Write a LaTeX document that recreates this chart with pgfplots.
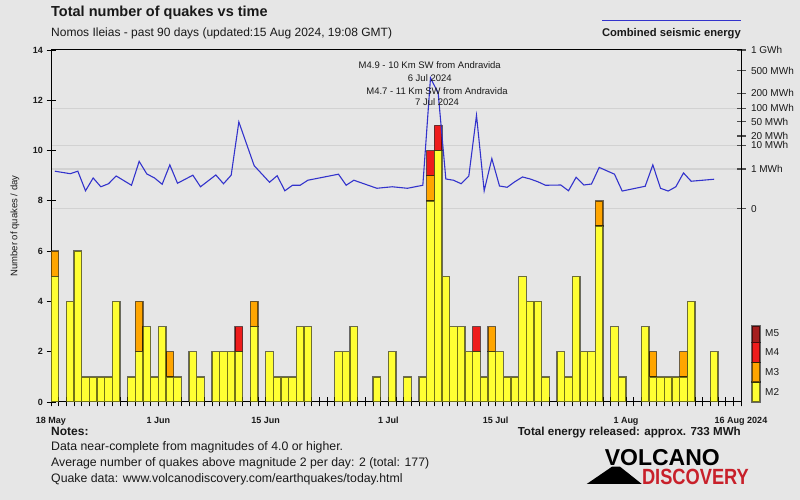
\documentclass[border=0pt]{standalone}
\usepackage{fontspec}
\setmainfont{Liberation Sans}
\usepackage{pgfplots}
\usepackage{pgfplotstable}
\pgfplotsset{compat=1.18}

\definecolor{bg}{RGB}{230,230,230}
\definecolor{qY}{RGB}{255,255,51}
\definecolor{qO}{RGB}{255,165,0}
\definecolor{qR}{RGB}{238,28,28}
\definecolor{qM5}{RGB}{165,30,30}
\definecolor{eline}{RGB}{51,51,204}
\definecolor{gridc}{RGB}{210,210,210}
\definecolor{txt}{RGB}{25,25,25}
\definecolor{logored}{RGB}{200,32,42}

% day (0 = 18 May), quakes M2, M3, M4, energy curve (drawn on left scale)
\pgfplotstableread{
d Y O R E
0 5 1 0 9.18
2 4 0 0 9.08
3 6 0 0 9.18
4 1 0 0 8.40
5 1 0 0 8.91
6 1 0 0 8.56
7 1 0 0 8.68
8 4 0 0 8.99
10 1 0 0 8.62
11 2 2 0 9.57
12 3 0 0 9.07
13 1 0 0 8.91
14 3 0 0 8.66
15 1 1 0 9.43
16 1 0 0 8.70
18 2 0 0 9.02
19 1 0 0 8.56
21 2 0 0 9.03
22 2 0 0 8.68
23 2 0 0 9.02
24 2 0 1 11.14
26 3 1 0 9.40
28 2 0 0 8.74
29 1 0 0 9.00
30 1 0 0 8.40
31 1 0 0 8.62
32 3 0 0 8.62
33 3 0 0 8.82
37 2 0 0 9.06
38 2 0 0 8.62
39 3 0 0 8.82
42 1 0 0 8.50
44 2 0 0 8.56
46 1 0 0 8.50
48 1 0 0 8.62
49 8 1 1 12.89
50 10 0 1 12.29
51 5 0 0 8.87
52 3 0 0 8.82
53 3 0 0 8.68
54 2 0 0 8.99
55 2 0 1 11.40
56 1 0 0 8.40
57 2 1 0 9.68
58 2 0 0 8.59
59 1 0 0 8.54
60 1 0 0 8.76
61 5 0 0 8.95
62 4 0 0 8.87
63 4 0 0 8.76
64 1 0 0 8.62
66 2 0 0 8.63
67 1 0 0 8.40
68 5 0 0 8.94
69 2 0 0 8.63
70 2 0 0 8.67
71 7 1 0 9.33
73 3 0 0 9.06
74 1 0 0 8.39
77 3 0 0 8.58
78 1 1 0 9.43
79 1 0 0 8.50
80 1 0 0 8.39
81 1 0 0 8.56
82 1 1 0 9.11
83 4 0 0 8.78
86 2 0 0 8.86
}\quakes

\pgfplotsset{
  base/.style={
    at={(51pt,98pt)}, anchor=south west,
    scale only axis, width=690pt, height=352pt,
    xmin=0, xmax=90, ymin=0, ymax=14,
    /pgf/number format/assume math mode=true,
  },
}

\begin{document}
\begin{tikzpicture}
\fill[bg] (0pt,0pt) rectangle (800pt,500pt);

% energy scale (right)
\begin{axis}[base,
  axis x line=none,
  axis y line*=right,
  axis line style={black, line width=1pt},
  ytick={7.69,9.27,10.21,11.68},
  yticklabels={0,1 MWh,10 MWh,100 MWh},
  extra y ticks={10.58,11.15,12.28,13.18,14},
  extra y tick labels={20 MWh,50 MWh,200 MWh,500 MWh,1 GWh},
  extra y tick style={grid=none},
  ymajorgrids,
  grid style={gridc, line width=1.3pt},
  tick align=center, major tick length=9pt,
  tick style={black!70, line width=1.2pt},
  yticklabel style={font=\fontsize{10}{11}\selectfont, text=txt, xshift=2pt},
]
\end{axis}

% quakes per day
\begin{axis}[base,
  ybar stacked, bar width=1,
  axis line style={black, line width=1pt},
  ytick={0,2,...,14},
  xtick={0,14,28,44,58,75,90},
  xticklabels={18 May,1 Jun,15 Jun,1 Jul,15 Jul,1 Aug,16 Aug 2024},
  minor xtick={0,...,90},
  xtick pos=bottom, ytick pos=left,
  tick align=center, major tick length=9pt, minor tick length=9pt,
  tick style={black, line width=0.8pt},
  yticklabel style={font=\fontsize{9}{10}\selectfont\bfseries, text=txt},
  xticklabel style={font=\fontsize{9}{10}\selectfont\bfseries, text=txt, yshift=-7pt},
  every axis plot/.append style={draw=black, draw opacity=0.55, line width=1.4pt},
]
\addplot[fill=qY] table[x expr=\thisrow{d}+0.5, y=Y] {\quakes};
\addplot[fill=qO] table[x expr=\thisrow{d}+0.5, y=O] {\quakes};
\addplot[fill=qR] table[x expr=\thisrow{d}+0.5, y=R] {\quakes};
\end{axis}

% combined seismic energy curve
\begin{axis}[base, hide axis, clip=false]
\addplot[eline, line width=1.1pt, mark=none] table[x expr=\thisrow{d}+0.5, y=E] {\quakes};
\node[font=\fontsize{9.5}{10}\selectfont, text=txt] at (axis cs:49.4,13.38) {M4.9 - 10 Km SW from Andravida};
\node[font=\fontsize{9.5}{10}\selectfont, text=txt] at (axis cs:49.4,12.88) {6 Jul 2024};
\node[font=\fontsize{9.5}{10}\selectfont, text=txt] at (axis cs:50.35,12.38) {M4.7 - 11 Km SW from Andravida};
\node[font=\fontsize{9.5}{10}\selectfont, text=txt] at (axis cs:50.35,11.92) {7 Jul 2024};
\end{axis}

% titles
\node[anchor=base west, inner sep=0, font=\fontsize{14.5}{15}\selectfont\bfseries, text=txt] at (51pt,483pt) {Total number of quakes vs time};
\node[anchor=base west, inner sep=0, font=\fontsize{12}{13}\selectfont, text=txt] at (51pt,463pt) {Nomos Ileias - past 90 days (updated:15 Aug 2024, 19:08 GMT)};
\draw[eline, line width=1.1pt] (602pt,479.7pt) -- (741pt,479.7pt);
\node[anchor=base east, inner sep=0, font=\fontsize{11.2}{12}\selectfont\bfseries, text=txt] at (741pt,463.5pt) {Combined seismic energy};
\node[rotate=90, inner sep=0, font=\fontsize{9.5}{10}\selectfont, text=txt] at (15pt,274pt) {Number of quakes / day};

% magnitude key
\begin{scope}[draw=black, draw opacity=0.55, line width=1.4pt]
\filldraw[fill=qY] (752pt,98pt) rectangle (760pt,118pt);
\filldraw[fill=qO] (752pt,118pt) rectangle (760pt,137.7pt);
\filldraw[fill=qR] (752pt,137.7pt) rectangle (760pt,157.3pt);
\filldraw[fill=qM5] (752pt,157.3pt) rectangle (760pt,174pt);
\end{scope}
\foreach \m/\yy in {M5/166.5, M4/148, M3/128, M2/108}
  \node[anchor=west, inner sep=0, font=\fontsize{10}{11}\selectfont, text=txt] at (765pt,\yy pt) {\m};

% notes
\node[anchor=base west, inner sep=0, font=\fontsize{12}{13}\selectfont\bfseries, text=txt] at (51pt,64pt) {Notes:};
\node[anchor=base west, inner sep=0, font=\fontsize{12.3}{13}\selectfont, text=txt] at (51pt,49pt) {Data near-complete from magnitudes of 4.0 or higher.};
\node[anchor=base west, inner sep=0, font=\fontsize{12.3}{13}\selectfont, text=txt] at (51pt,33pt) {Average number of quakes above magnitude 2 per day: 2 (total: 177)};
\node[anchor=base west, inner sep=0, font=\fontsize{12.3}{13}\selectfont, text=txt] at (51pt,17pt) {Quake data: www.volcanodiscovery.com/earthquakes/today.html};
\node[anchor=base east, inner sep=0, font=\fontsize{11.6}{12}\selectfont\bfseries, text=txt] at (741pt,64pt) {Total energy released: approx. 733 MWh};

% logo
\fill[black] (586.7pt,16pt) -- (612pt,33.3pt) -- (620pt,33.3pt) -- (641.8pt,16pt) -- cycle;
\node[anchor=base west, inner sep=0, font=\fontsize{23}{24}\selectfont\bfseries] at (604.6pt,34.8pt) {VOLCANO};
\node[anchor=base west, inner sep=0, font=\fontsize{22}{23}\selectfont\bfseries, text=logored] at (641.8pt,15.5pt) {\scalebox{0.83}[1]{DISCOVERY}};

\pgfresetboundingbox
\path (0pt,0pt) rectangle (800pt,500pt);
\end{tikzpicture}
\end{document}
